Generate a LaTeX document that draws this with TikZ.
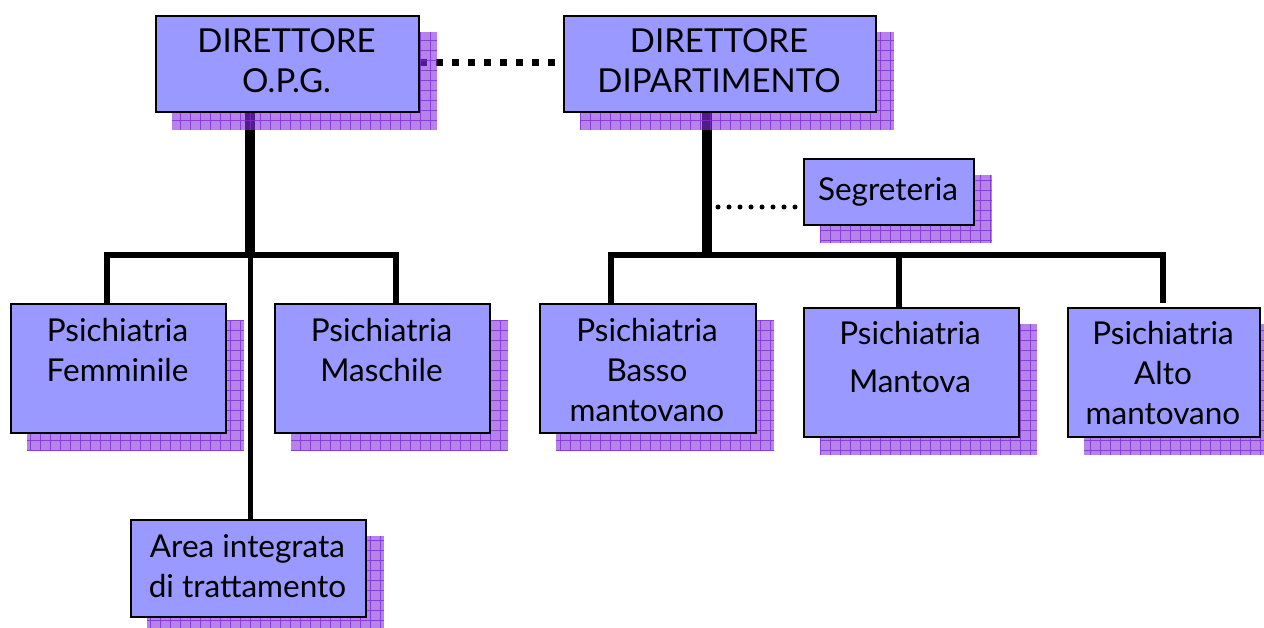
\documentclass[tikz,border=0pt]{standalone}
\usepackage{fontspec}
\setmainfont{Lato}
\usetikzlibrary{backgrounds}
\pgfdeclarelayer{bg}
\pgfdeclarelayer{conn}
\pgfdeclarelayer{shad}
\pgfsetlayers{bg,conn,shad,main}
\definecolor{boxfill}{RGB}{153,153,255}
\definecolor{shadfill}{RGB}{138,47,222}
\definecolor{shadgrid}{RGB}{125,45,215}
\tikzset{
  orgbox/.style={draw=black, line width=2pt, fill=boxfill, anchor=north west, inner sep=0pt},
  txt/.style={align=center, font=\fontsize{31.5}{40}\selectfont, inner sep=0pt},
  captxt/.style={align=center, font=\fontsize{33}{40}\selectfont, inner sep=0pt},
  thick line/.style={line width=10pt},
  mid line/.style={line width=6pt},
  thin line/.style={line width=5pt},
  square dots/.style={line width=7pt, dash pattern=on 7pt off 9pt},
  round dots/.style={line width=5pt, line cap=round, dash pattern=on 0pt off 11pt},
}
\newcommand{\orgshadow}[1]{%
  \begin{scope}
    \clip ([shift={(17,17)}]#1.south west) rectangle ([shift={(17,17)}]#1.north east);
    \fill[shadfill, fill opacity=0.6] ([shift={(17,17)}]#1.south west) rectangle ([shift={(17,17)}]#1.north east);
    \draw[shadgrid, line width=0.9pt, step=10pt, opacity=0.8] ([shift={(17,17)}]#1.south west) grid ([shift={(17,17)}]#1.north east);
  \end{scope}}
\begin{document}
\begin{tikzpicture}[x=1pt,y=-1pt]
\begin{pgfonlayer}{bg}
\fill[white] (0,0) rectangle (1264,628);
\end{pgfonlayer}
\useasboundingbox (0,0) rectangle (1264,628);
% boxes
\node[orgbox, minimum width=263pt, minimum height=96pt] (opg) at (155,15) {};
\node[orgbox, minimum width=312pt, minimum height=96pt] (dip) at (563,15) {};
\node[orgbox, minimum width=170pt, minimum height=66pt] (seg) at (803,158) {};
\node[orgbox, minimum width=215pt, minimum height=129pt] (fem) at (10,303) {};
\node[orgbox, minimum width=215pt, minimum height=129pt] (mas) at (274,303) {};
\node[orgbox, minimum width=216pt, minimum height=129pt] (bas) at (539,303) {};
\node[orgbox, minimum width=215pt, minimum height=129pt] (man) at (803,307) {};
\node[orgbox, minimum width=192pt, minimum height=129pt] (alt) at (1067,307) {};
\node[orgbox, minimum width=235pt, minimum height=97pt] (are) at (130,519) {};
% texts
\node[captxt] (topg) at (286.5,61) {DIRETTORE\\O.P.G.};
\node[captxt] (tdip) at (719,61) {DIRETTORE\\DIPARTIMENTO};
\node[txt] (tseg) at (888,192) {Segreteria};
\node[txt] (tfem) at (117.5,350) {Psichiatria\\Femminile};
\node[txt] (tmas) at (381.5,350) {Psichiatria\\Maschile};
\node[txt] (tbas) at (647,370) {Psichiatria\\Basso\\mantovano};
\node[txt] (tman) at (910,333) {Psichiatria};
\node[txt] (tman2) at (910,381) {Mantova};
\node[txt] (talt) at (1163,373) {Psichiatria\\Alto\\mantovano};
\node[txt] (tare) at (247.5,566) {Area integrata\\di trattamento};
% coordinates
\coordinate (busL) at (250,255);
\coordinate (busR) at (707,255);
\coordinate (segdot) at (718,207);
% shadows
\begin{pgfonlayer}{shad}
\orgshadow{opg}\orgshadow{dip}\orgshadow{seg}\orgshadow{fem}\orgshadow{mas}
\orgshadow{bas}\orgshadow{man}\orgshadow{alt}\orgshadow{are}
\end{pgfonlayer}
% connectors
\begin{pgfonlayer}{conn}
\draw[thick line] (opg.south -| busL) -- ([yshift=-3pt]busL);
\draw[thin line] (busL) -- (are.north -| busL);
\draw[mid line] (fem.north -| 107,0) -- (107,255) -- (396,255) -- (mas.north -| 396,0);
\draw[thick line] (dip.south -| busR) -- ([yshift=-3pt]busR);
\draw[mid line] (bas.north -| 611,0) -- (611,255) -- (1163,255) -- (1163,303);
\draw[mid line] (899,255) -- (man.north -| 899,0);
\draw[square dots] (opg.east |- 0,63) -- (dip.west |- 0,63);
\draw[round dots] (segdot) -- (seg.west |- segdot);
\end{pgfonlayer}
\end{tikzpicture}
\end{document}
